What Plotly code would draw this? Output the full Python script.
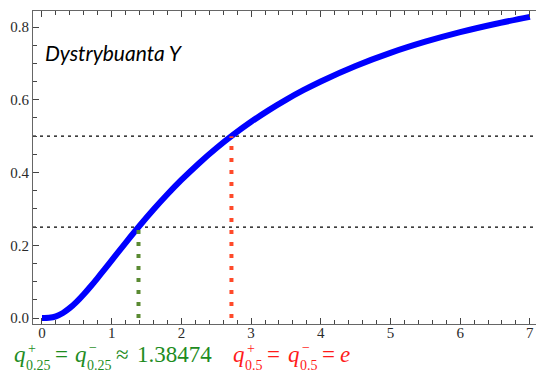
import plotly.graph_objects as go

# Values (CDF of Y)
y_vals_x = [0, 0.1, 0.2, 0.3, 0.4, 0.5, 0.6, 0.7, 0.8, 0.9, 1.0, 1.2, 1.4, 1.6, 1.8, 2.0,
            2.25, 2.5, 2.75, 3.0, 3.25, 3.5, 3.75, 4.0, 4.5, 5.0, 5.5, 6.0, 6.5, 7.0]
cdf_vals = [0, 0.0005, 0.0045, 0.0138, 0.0277, 0.0452, 0.0654, 0.0874, 0.1106, 0.1345, 0.1587,
            0.2068, 0.2535, 0.2981, 0.3401, 0.3795, 0.425, 0.4666, 0.5046, 0.5393, 0.5709,
            0.5998, 0.6262, 0.6504, 0.6929, 0.7289, 0.7595, 0.7858, 0.8083, 0.8279]
levels = [0.25, 0.5]
quantiles = [1.38474, 2.718282]
quantile_colors = ["#5a8a32", "#ff4a2a"]
x_ticks = [0, 1, 2, 3, 4, 5, 6, 7]
y_ticks = [0.0, 0.2, 0.4, 0.6, 0.8]

W, H = 536, 373
ML, MR, MT, MB = 33, 0, 11, 49
PW, PH = W - ML - MR, H - MT - MB
SERIF = "Liberation Serif, Times New Roman, Times, serif"

fig = go.Figure()

for lv in levels:
    fig.add_shape(type="line", xref="paper", yref="y", x0=0, x1=1, y0=lv, y1=lv,
                  line=dict(color="black", width=1.3, dash="3px,4px"), layer="below")

fig.add_trace(go.Scatter(x=y_vals_x, y=cdf_vals, mode="lines",
                         line=dict(color="#0000ff", width=6, shape="spline", smoothing=0.6),
                         hoverinfo="skip", showlegend=False))

for q, lv, c in zip(quantiles, levels, quantile_colors):
    fig.add_trace(go.Scatter(x=[q, q], y=[0, lv], mode="lines",
                             line=dict(color=c, width=4, dash="4px,8px"),
                             hoverinfo="skip", showlegend=False))

axis_common = dict(showgrid=False, zeroline=False, showline=True, linecolor="#666666",
                   linewidth=1.2, ticks="inside", ticklen=6, tickcolor="#444444",
                   tickfont=dict(family=SERIF, size=15, color="#2a2a2a"))

fig.update_xaxes(range=[-0.129, 7.088], tickvals=x_ticks, mirror="ticks",
                 ticklabelstandoff=-5,
                 minor=dict(ticks="inside", ticklen=3.5, dtick=0.2, tick0=0, tickcolor="#444444"),
                 **axis_common)
fig.update_yaxes(range=[-0.0165, 0.844], tickvals=y_ticks, tickformat=".1f", mirror=False,
                 minor=dict(ticks="inside", ticklen=3.5, dtick=0.05, tick0=0, tickcolor="#444444"),
                 **axis_common)


def px2paper(px, py):
    return (px - ML) / PW, (H - MB - py) / PH


def add_txt(px, py, text, size, color, family=SERIF, anchor="left"):
    x, y = px2paper(px, py)
    fig.add_annotation(x=x, y=y, xref="paper", yref="paper", text=text, showarrow=False,
                       xanchor=anchor, yanchor="middle", borderpad=0,
                       font=dict(family=family, size=size, color=color))


# Title
add_txt(44, 53, "<i>Dystrybuanta Y</i>", 21, "black", family="Lato")

# Green formula
g = "#1e8c1e"
add_txt(13, 354, "<i>q</i>", 23, g)
add_txt(27, 348, "+", 14, g)
add_txt(25, 365, "0.25", 14, g)
add_txt(54, 354, "=", 23, g)
add_txt(74, 354, "<i>q</i>", 23, g)
add_txt(88, 347, "−", 14, g)
add_txt(86, 365, "0.25", 14, g)
add_txt(115, 354, "≈", 23, g)
add_txt(136, 354, "1.38474", 23, g)

# Red formula
r = "#ff1a1a"
add_txt(232, 354, "<i>q</i>", 23, r)
add_txt(246, 348, "+", 14, r)
add_txt(244, 365, "0.5", 14, r)
add_txt(266, 354, "=", 23, r)
add_txt(287, 354, "<i>q</i>", 23, r)
add_txt(301, 347, "−", 14, r)
add_txt(299, 365, "0.5", 14, r)
add_txt(321, 354, "=", 23, r)
add_txt(339, 354, "<i>e</i>", 23, r)

fig.update_layout(width=W, height=H, margin=dict(l=ML, r=MR, t=MT, b=MB),
                  paper_bgcolor="white", plot_bgcolor="white", showlegend=False)

fig.write_html("out.html")
